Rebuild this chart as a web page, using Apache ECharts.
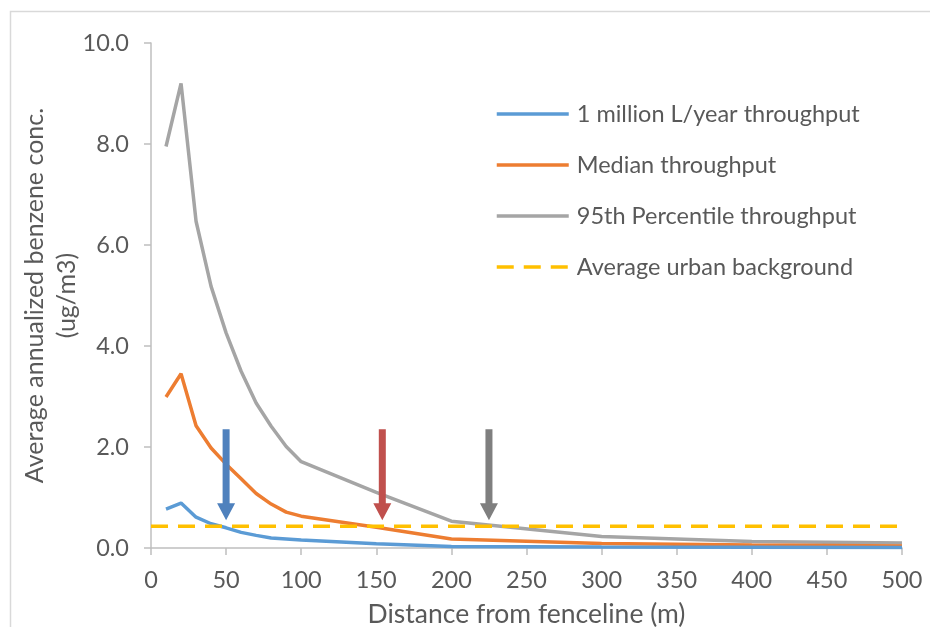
<!DOCTYPE html>
<html>
<head>
<meta charset="utf-8">
<script src="https://cdn.jsdelivr.net/npm/echarts@6/dist/echarts.min.js"></script>
<style>
  html, body { margin: 0; padding: 0; background: #fff; }
  #chart { width: 930px; height: 627px; }
</style>
</head>
<body>
<div id="chart"></div>
<script>
// Distances from fenceline (m)
var distances = [10, 20, 30, 40, 50, 60, 70, 80, 90, 100, 150, 200, 300, 400, 500];
// Annualized benzene concentration (ug/m3)
var oneMillion = [0.77, 0.89, 0.61, 0.48, 0.40, 0.31, 0.25, 0.20, 0.18, 0.16, 0.085, 0.03, 0.02, 0.015, 0.01];
var medianThroughput = [2.99, 3.45, 2.42, 1.98, 1.66, 1.37, 1.08, 0.87, 0.71, 0.63, 0.41, 0.18, 0.09, 0.06, 0.04];
var p95Throughput = [7.95, 9.2, 6.47, 5.18, 4.26, 3.5, 2.87, 2.41, 2.01, 1.71, 1.1, 0.53, 0.23, 0.13, 0.10];
// Average urban background
var backgroundX = [0, 500];
var backgroundLevel = 0.43;
// Arrows marking where each curve meets the background
var arrowX = [50, 154, 225];
var arrowTop = 2.35;
var arrowTip = 0.55;
var arrowColors = ['#4f81bd', '#c0504d', '#7f7f7f'];

var seriesNames = ['1 million L/year throughput', 'Median throughput', '95th Percentile throughput', 'Average urban background'];

function pairs(xs, ys) { return xs.map(function (x, i) { return [x, ys[i]]; }); }

var fontFam = 'Lato, "Open Sans", sans-serif';
var txtCol = '#595959';
var axisCol = '#bfbfbf';

var chart = echarts.init(document.getElementById('chart'));
chart.setOption({
  backgroundColor: '#ffffff',
  animation: false,
  graphic: [{
    type: 'rect',
    shape: { x: 10.5, y: 11.5, width: 960, height: 660 },
    style: { fill: 'none', stroke: '#d9d9d9', lineWidth: 1.5 },
    silent: true, z: -10
  }],
  grid: { left: 151, right: 28, top: 43, bottom: 79, containLabel: false, outerBoundsMode: 'none' },
  legend: {
    orient: 'vertical',
    left: 495,
    top: 102,
    padding: 0,
    itemWidth: 72,
    itemHeight: 14,
    itemGap: 27,
    itemStyle: { opacity: 0 },
    lineStyle: { width: 3.5 },
    data: seriesNames,
    textStyle: { fontFamily: fontFam, fontSize: 23.5, color: txtCol, lineHeight: 24, padding: [0, 0, 0, 3] }
  },
  xAxis: {
    type: 'value', min: 0, max: 500, interval: 50,
    name: 'Distance from fenceline (m)', nameLocation: 'middle', nameGap: 53,
    nameMoveOverlap: false,
    nameTextStyle: { fontFamily: fontFam, fontSize: 26.5, color: txtCol },
    axisLine: { show: true, lineStyle: { color: axisCol, width: 1.5 } },
    axisTick: { show: true, inside: false, length: 7, lineStyle: { color: axisCol, width: 1.5 } },
    axisLabel: { fontFamily: fontFam, fontSize: 23.5, color: txtCol, margin: 20 },
    splitLine: { show: false }
  },
  yAxis: {
    type: 'value', min: 0, max: 10, interval: 2,
    name: 'Average annualized benzene conc.\n(ug/m3)', nameLocation: 'middle', nameGap: 68,
    nameMoveOverlap: false,
    nameTextStyle: { fontFamily: fontFam, fontSize: 25, color: txtCol, lineHeight: 32, align: 'center' },
    axisLine: { show: true, lineStyle: { color: axisCol, width: 1.5 } },
    axisTick: { show: true, inside: false, length: 7, lineStyle: { color: axisCol, width: 1.5 } },
    axisLabel: { fontFamily: fontFam, fontSize: 23.5, color: txtCol, margin: 22,
      formatter: function (v) { return v.toFixed(1); } },
    splitLine: { show: false }
  },
  series: [
    { name: seriesNames[0], type: 'line', data: pairs(distances, oneMillion), symbol: 'none',
      lineStyle: { color: '#5b9bd5', width: 3.5 }, itemStyle: { color: '#5b9bd5' }, z: 4 },
    { name: seriesNames[1], type: 'line', data: pairs(distances, medianThroughput), symbol: 'none',
      lineStyle: { color: '#ed7d31', width: 3.5 }, itemStyle: { color: '#ed7d31' }, z: 3 },
    { name: seriesNames[2], type: 'line', data: pairs(distances, p95Throughput), symbol: 'none',
      lineStyle: { color: '#a5a5a5', width: 3.5 }, itemStyle: { color: '#a5a5a5' }, z: 2 },
    { name: seriesNames[3], type: 'line', data: backgroundX.map(function (x) { return [x, backgroundLevel]; }), symbol: 'none',
      lineStyle: { color: '#ffc000', width: 3.5, type: [17, 10] }, itemStyle: { color: '#ffc000' }, z: 5 },
    {
      type: 'custom', z: 10,
      data: arrowX.map(function (x, i) { return [x, arrowTop, arrowTip, i]; }),
      renderItem: function (params, api) {
        var top = api.coord([api.value(0), api.value(1)]);
        var tip = api.coord([api.value(0), api.value(2)]);
        var cx = top[0];
        var sw = 3.5, hw = 9, hh = 17;
        var neck = tip[1] - hh;
        return {
          type: 'polygon',
          shape: { points: [
            [cx - sw, top[1]], [cx + sw, top[1]], [cx + sw, neck], [cx + hw, neck],
            [cx, tip[1]], [cx - hw, neck], [cx - sw, neck]
          ] },
          style: { fill: arrowColors[api.value(3)] }
        };
      }
    }
  ]
});
</script>
</body>
</html>
